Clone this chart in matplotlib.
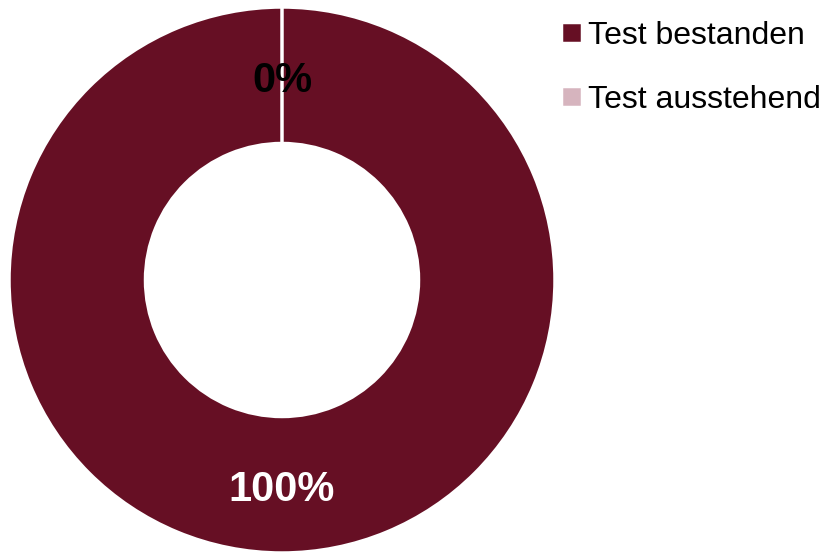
import matplotlib
matplotlib.use("Agg")
import matplotlib.pyplot as plt
import numpy as np

plt.rcParams['font.family'] = ['Liberation Sans', 'DejaVu Sans']

labels = ["Test bestanden", "Test ausstehend"]
values = [100, 0]
colors = ["#660F24", "#D6B4BE"]
pct_text = ["100%", "0%"]
pct_colors = ["white", "black"]

fig = plt.figure(figsize=(8.23, 5.54), dpi=100)
ax = fig.add_axes([9 / 823, 1 / 554, 546 / 823, 546 / 554])

wedges, _ = ax.pie(values, colors=colors, startangle=90, counterclock=False,
                   radius=1, wedgeprops=dict(width=0.5, edgecolor="white", linewidth=2.5))
ax.set_xlim(-1, 1)
ax.set_ylim(-1, 1)
ax.set_aspect("equal")
ax.axis("off")

# data labels sit in the middle of the ring, at each slice's mid angle
theta = 90.0
for v, t, c in zip(values, pct_text, pct_colors):
    mid = np.deg2rad(theta - v / sum(values) * 360 / 2)
    ax.text(0.75 * np.cos(mid), 0.75 * np.sin(mid) - 0.02, t, ha="center", va="center",
            fontsize=30, fontweight="bold", color=c)
    theta -= v / sum(values) * 360

fig.legend(wedges, labels, loc="upper left", bbox_to_anchor=(561 / 823, 1 - 21 / 554),
           frameon=False, fontsize=23, handlelength=0.65, handleheight=0.65,
           handletextpad=0.2, labelspacing=1.05, borderpad=0, borderaxespad=0)

fig.savefig("out.png", dpi=100)
